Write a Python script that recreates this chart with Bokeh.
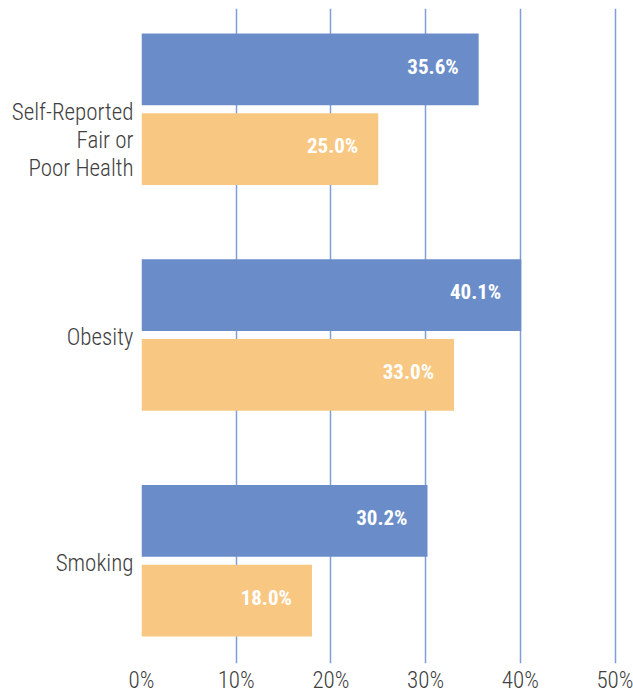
from bokeh.plotting import figure
from bokeh.models import Range1d, FixedTicker, ColumnDataSource
from bokeh.transform import dodge
from bokeh.core.properties import value
from bokeh.embed import file_html
from bokeh.resources import INLINE

categories = ["Self-Reported\nFair or\nPoor Health", "Obesity", "Smoking"]
series_blue = [35.6, 40.1, 30.2]
series_orange = [25.0, 33.0, 18.0]
x_ticks = [0, 10, 20, 30, 40, 50]
x_tick_labels = ["0%", "10%", "20%", "30%", "40%", "50%"]

BLUE = "#6a8dc9"
ORANGE = "#f8c882"
GRID = "#7f9fd8"
TEXT = "#404040"
LABEL_FONT = "Roboto Condensed Light"

W, H = 633, 696
p = figure(width=W, height=H, output_backend="svg", toolbar_location=None,
           x_range=Range1d(0, 51), y_range=Range1d(2.455, -0.446),
           min_border_left=141, min_border_right=9, min_border_top=8,
           min_border_bottom=31)
p.outline_line_color = None
p.background_fill_color = "white"
p.border_fill_color = "white"

idx = list(range(len(categories)))
src = ColumnDataSource(dict(
    y=idx, blue=series_blue, orange=series_orange,
    blue_txt=[f"{v:.1f}%" for v in series_blue],
    orange_txt=[f"{v:.1f}%" for v in series_orange],
))

off = 0.1766
bh = 0.318
p.hbar(y=dodge("y", -off, range=p.y_range), right="blue", left=0, height=bh,
       source=src, fill_color=BLUE, line_color=None)
p.hbar(y=dodge("y", off, range=p.y_range), right="orange", left=0, height=bh,
       source=src, fill_color=ORANGE, line_color=None)

vfont = value("Roboto Condensed")
for col, txt, d in (("blue", "blue_txt", -off - 0.012), ("orange", "orange_txt", off - 0.012)):
    p.text(x=col, y=dodge("y", d, range=p.y_range), text=txt, source=src,
           text_align="right", text_baseline="middle", x_offset=-20,
           text_color="white", text_font=vfont, text_font_style="bold",
           text_font_size="21px")

# category axis: multi-line labels, first line level with the group centre
line_units = 28.5 / 226.5
nudge = 2.5 / 226.5
cat_ticks = [i + nudge + (c.count("\n")) * line_units / 2 for i, c in enumerate(categories)]
p.yaxis.ticker = FixedTicker(ticks=cat_ticks)
p.yaxis.major_label_overrides = {t: c for t, c in zip(cat_ticks, categories)}
p.yaxis.axis_line_color = None
p.yaxis.major_tick_line_color = None
p.yaxis.minor_tick_line_color = None
p.yaxis.major_tick_out = 0
p.yaxis.major_tick_in = 0
p.yaxis.minor_tick_out = 0
p.yaxis.major_label_standoff = 8
p.yaxis.major_label_text_font = LABEL_FONT
p.yaxis.major_label_text_font_size = "23px"
p.yaxis.major_label_text_color = TEXT
p.yaxis.major_label_text_line_height = 1.04

p.ygrid.visible = False
p.xgrid.ticker = FixedTicker(ticks=x_ticks)
p.xgrid.grid_line_color = GRID
p.xgrid.grid_line_width = 1.5

p.xaxis.ticker = FixedTicker(ticks=x_ticks)
p.xaxis.major_label_overrides = {t: l for t, l in zip(x_ticks, x_tick_labels)}
p.xaxis.axis_line_color = None
p.xaxis.major_tick_line_color = None
p.xaxis.minor_tick_line_color = None
p.xaxis.major_tick_out = 0
p.xaxis.major_tick_in = 0
p.xaxis.minor_tick_out = 0
p.xaxis.major_label_standoff = 3
p.xaxis.major_label_text_font = LABEL_FONT
p.xaxis.major_label_text_font_size = "23px"
p.xaxis.major_label_text_color = TEXT

open("out.html", "w").write(file_html(p, INLINE))
